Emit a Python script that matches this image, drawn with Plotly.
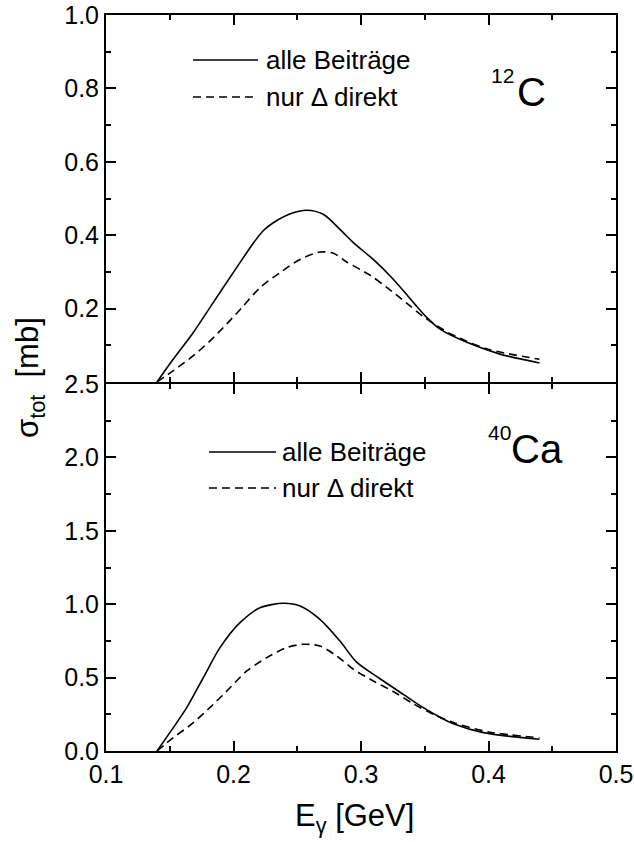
import plotly.graph_objects as go

# 12C, alle Beitraege (solid) and nur Delta direkt (dashed)
c_alle_x = [0.140, 0.1528, 0.1685, 0.1842, 0.1998, 0.2155, 0.2233, 0.2312, 0.2469, 0.2574, 0.2704,
            0.2835, 0.2940, 0.3096, 0.3253, 0.3410, 0.3515, 0.3620, 0.383, 0.409, 0.440]
c_alle_y = [0.000, 0.0625, 0.135, 0.217, 0.298, 0.378, 0.412, 0.434, 0.461, 0.468, 0.457,
            0.416, 0.380, 0.334, 0.280, 0.217, 0.176, 0.144, 0.108, 0.076, 0.052]
c_delta_x = [0.140, 0.1528, 0.1685, 0.1816, 0.1947, 0.2077, 0.2208, 0.2365, 0.2522, 0.2678, 0.2783,
             0.2888, 0.3071, 0.3202, 0.3358, 0.3489, 0.362, 0.372, 0.399, 0.440]
c_delta_y = [0.000, 0.031, 0.0716, 0.112, 0.158, 0.207, 0.257, 0.298, 0.334, 0.354, 0.351,
             0.327, 0.291, 0.258, 0.215, 0.178, 0.148, 0.128, 0.090, 0.062]

# 40Ca
ca_alle_x = [0.140, 0.1528, 0.1633, 0.1763, 0.1894, 0.2051, 0.2208, 0.2391, 0.2522, 0.2678, 0.2835,
             0.2966, 0.3149, 0.3332, 0.3489, 0.3620, 0.372, 0.396, 0.440]
ca_alle_y = [0.00, 0.159, 0.295, 0.499, 0.704, 0.874, 0.976, 1.006, 0.988, 0.897, 0.749,
             0.605, 0.492, 0.386, 0.295, 0.230, 0.188, 0.125, 0.080]
ca_delta_x = [0.140, 0.1528, 0.1685, 0.1842, 0.1973, 0.2104, 0.2261, 0.2417, 0.2548, 0.2678, 0.2809,
              0.2940, 0.3097, 0.3253, 0.3410, 0.3567, 0.372, 0.400, 0.440]
ca_delta_y = [0.00, 0.091, 0.193, 0.318, 0.431, 0.545, 0.636, 0.704, 0.727, 0.715, 0.647,
              0.557, 0.477, 0.405, 0.322, 0.250, 0.195, 0.130, 0.090]

top_tickvals = [0.2, 0.4, 0.6, 0.8, 1.0]
top_ticktext = ["0.2", "0.4", "0.6", "0.8", "1.0"]
bot_tickvals = [0.0, 0.5, 1.0, 1.5, 2.0, 2.5]
bot_ticktext = ["0.0", "0.5", "1.0", "1.5", "2.0", "2.5"]
x_tickvals = [0.1, 0.2, 0.3, 0.4, 0.5]
x_ticktext = ["0.1", "0.2", "0.3", "0.4", "0.5"]

FONT = "Liberation Sans, Arial, sans-serif"
solid = dict(color="black", width=1.6)
dashed = dict(color="black", width=1.6, dash="8px,5px")

fig = go.Figure()
fig.add_trace(go.Scatter(x=c_alle_x, y=c_alle_y, mode="lines",
                         line=dict(shape="spline", smoothing=0.8, **solid),
                         xaxis="x2", yaxis="y2", showlegend=False))
fig.add_trace(go.Scatter(x=c_delta_x, y=c_delta_y, mode="lines",
                         line=dict(shape="spline", smoothing=0.8, **dashed),
                         xaxis="x2", yaxis="y2", showlegend=False))
fig.add_trace(go.Scatter(x=ca_alle_x, y=ca_alle_y, mode="lines",
                         line=dict(shape="spline", smoothing=0.8, **solid),
                         xaxis="x", yaxis="y", showlegend=False))
fig.add_trace(go.Scatter(x=ca_delta_x, y=ca_delta_y, mode="lines",
                         line=dict(shape="spline", smoothing=0.8, **dashed),
                         xaxis="x", yaxis="y", showlegend=False))

axis_common = dict(showline=True, linecolor="black", linewidth=2, mirror="ticks",
                   ticks="inside", ticklen=10, tickwidth=1.5, tickcolor="black",
                   showgrid=False, zeroline=False, automargin=False,
                   tickfont=dict(family=FONT, size=25, color="black"))
minor_common = dict(ticklen=5, ticks="inside", tickcolor="black", tickwidth=1.5)

W = 510.0
H = 736.0
def px(xp):
    return (xp - 106) / W
def py(yp):
    return (751 - yp) / H

# panels overlap by the axis line width so the shared border is a single line
fig.update_layout(
    width=634, height=842,
    margin=dict(l=106, r=18, t=15, b=91),
    paper_bgcolor="white", plot_bgcolor="white",
    xaxis=dict(range=[0.1, 0.5], domain=[0, 1], anchor="y", tickvals=x_tickvals, ticktext=x_ticktext,
               minor=dict(dtick=0.05, tick0=0.1, **minor_common), **axis_common),
    yaxis=dict(range=[0, 2.5], domain=[0, py(384)], anchor="x", tickvals=bot_tickvals, ticktext=bot_ticktext,
               minor=dict(dtick=0.25, tick0=0, **minor_common), **axis_common),
    xaxis2=dict(range=[0.1, 0.5], domain=[0, 1], anchor="y2", tickvals=x_tickvals, showticklabels=False,
                minor=dict(dtick=0.05, tick0=0.1, **minor_common), **axis_common),
    yaxis2=dict(range=[0, 1.0], domain=[py(382), 1], anchor="x2", tickvals=top_tickvals, ticktext=top_ticktext,
                minor=dict(dtick=0.1, tick0=0, **minor_common), **axis_common),
)

def text(x, y, s, size, xanchor="left", angle=0):
    fig.add_annotation(xref="paper", yref="paper", x=px(x), y=py(y), xanchor=xanchor, yanchor="middle",
                       text=s, showarrow=False, textangle=angle,
                       font=dict(family=FONT, size=size, color="black"))

# legend samples
def legend_block(x0, x1, y_solid, y_dash, xtext):
    fig.add_shape(type="line", xref="paper", yref="paper", x0=px(x0), x1=px(x1), y0=py(y_solid), y1=py(y_solid),
                  line=dict(color="black", width=1.6))
    fig.add_shape(type="line", xref="paper", yref="paper", x0=px(x0), x1=px(x1), y0=py(y_dash), y1=py(y_dash),
                  line=dict(color="black", width=1.6, dash="8px,5px"))
    text(xtext, y_solid, "alle Beiträge", 26)
    text(xtext, y_dash, "nur Δ direkt", 26)

legend_block(193, 258, 60, 97, 264)
legend_block(209, 276, 452, 488, 280)

text(489, 75, "12", 21)
text(515, 92, "C", 40)
text(486, 432, "40", 21)
text(509, 449, "Ca", 40)

# axis titles
fig.add_annotation(xref="paper", yref="paper", x=px(30), y=py(378), xanchor="center", yanchor="middle",
                   text="σ<sub>tot</sub>  [mb]", textangle=-90, showarrow=False,
                   font=dict(family=FONT, size=31, color="black"))
fig.add_annotation(xref="paper", yref="paper", x=px(354), y=py(818), xanchor="center", yanchor="middle",
                   text="E<sub>γ</sub> [GeV]", showarrow=False,
                   font=dict(family=FONT, size=31, color="black"))

fig.write_html("out.html", config={"displayModeBar": False},
               post_script="document.body.style.margin='0';")
